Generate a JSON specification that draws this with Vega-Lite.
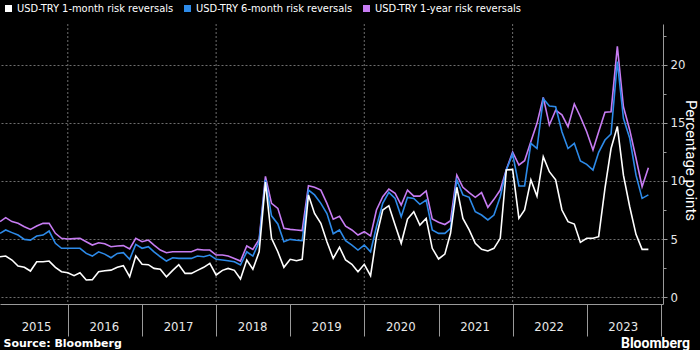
{
  "$schema": "https://vega.github.io/schema/vega-lite/v6.json",
  "width": 663,
  "height": 280,
  "autosize": "none",
  "padding": {"left": 0, "top": 24, "right": 37, "bottom": 46},
  "background": "#000000",
  "config": {"view": {"stroke": null}, "axisX": {"grid": false}},
  "title": {"text": "Bloomberg", "orient": "bottom", "anchor": "end", "frame": "group", "color": "#ffffff", "fontSize": 14, "fontWeight": "bold", "font": "Roboto", "dx": 27, "dy": -11, "offset": 0},
  "datasets": {
    "gridyears": [
      {"date": "2016-01-01"}, {"date": "2018-01-01"}, {"date": "2020-01-01"}, {"date": "2022-01-01"}
    ],
    "rr": [
    {"date":"2015-02-01","m1":3.47,"m6":5.49,"y1":6.5},
    {"date":"2015-03-01","m1":3.53,"m6":5.78,"y1":6.84},
    {"date":"2015-04-01","m1":3.19,"m6":5.55,"y1":6.5},
    {"date":"2015-05-01","m1":2.67,"m6":5.34,"y1":6.35},
    {"date":"2015-06-01","m1":2.56,"m6":4.97,"y1":6.06},
    {"date":"2015-07-01","m1":2.24,"m6":4.91,"y1":5.83},
    {"date":"2015-08-01","m1":3.04,"m6":5.26,"y1":6.12},
    {"date":"2015-09-01","m1":3.04,"m6":5.34,"y1":6.35},
    {"date":"2015-10-01","m1":3.1,"m6":5.69,"y1":6.35},
    {"date":"2015-11-01","m1":2.56,"m6":4.63,"y1":5.49},
    {"date":"2015-12-01","m1":2.18,"m6":4.2,"y1":5.06},
    {"date":"2016-01-01","m1":2.1,"m6":4.2,"y1":5.0},
    {"date":"2016-02-01","m1":1.84,"m6":4.2,"y1":5.03},
    {"date":"2016-03-01","m1":2.1,"m6":4.2,"y1":5.06},
    {"date":"2016-04-01","m1":1.47,"m6":3.76,"y1":4.77},
    {"date":"2016-05-01","m1":1.5,"m6":3.53,"y1":4.48},
    {"date":"2016-06-01","m1":2.18,"m6":3.9,"y1":4.68},
    {"date":"2016-07-01","m1":2.27,"m6":3.7,"y1":4.6},
    {"date":"2016-08-01","m1":2.32,"m6":3.39,"y1":4.34},
    {"date":"2016-09-01","m1":2.56,"m6":3.76,"y1":4.4},
    {"date":"2016-10-01","m1":2.7,"m6":3.82,"y1":4.43},
    {"date":"2016-11-01","m1":1.75,"m6":3.25,"y1":4.14},
    {"date":"2016-12-01","m1":3.53,"m6":4.54,"y1":5.06},
    {"date":"2017-01-01","m1":2.82,"m6":4.2,"y1":4.77},
    {"date":"2017-02-01","m1":2.79,"m6":4.34,"y1":4.91},
    {"date":"2017-03-01","m1":2.47,"m6":3.9,"y1":4.48},
    {"date":"2017-04-01","m1":2.39,"m6":3.47,"y1":4.05},
    {"date":"2017-05-01","m1":1.75,"m6":3.1,"y1":3.82},
    {"date":"2017-06-01","m1":2.3,"m6":3.39,"y1":3.9},
    {"date":"2017-07-01","m1":2.79,"m6":3.33,"y1":3.9},
    {"date":"2017-08-01","m1":2.04,"m6":3.33,"y1":3.9},
    {"date":"2017-09-01","m1":2.04,"m6":3.33,"y1":3.9},
    {"date":"2017-10-01","m1":2.3,"m6":3.53,"y1":4.11},
    {"date":"2017-11-01","m1":2.56,"m6":3.47,"y1":4.05},
    {"date":"2017-12-01","m1":2.9,"m6":3.62,"y1":4.05},
    {"date":"2018-01-01","m1":1.9,"m6":3.25,"y1":3.62},
    {"date":"2018-02-01","m1":2.3,"m6":3.19,"y1":3.62},
    {"date":"2018-03-01","m1":2.47,"m6":3.13,"y1":3.53},
    {"date":"2018-04-01","m1":2.3,"m6":3.04,"y1":3.33},
    {"date":"2018-05-01","m1":1.55,"m6":2.76,"y1":3.1},
    {"date":"2018-06-01","m1":3.19,"m6":3.9,"y1":4.4},
    {"date":"2018-07-01","m1":2.39,"m6":3.53,"y1":4.11},
    {"date":"2018-08-01","m1":3.9,"m6":4.77,"y1":4.97},
    {"date":"2018-09-01","m1":9.9,"m6":10.1,"y1":10.4},
    {"date":"2018-10-01","m1":5.06,"m6":7.0,"y1":8.07},
    {"date":"2018-11-01","m1":3.9,"m6":6.3,"y1":7.64},
    {"date":"2018-12-01","m1":2.56,"m6":4.77,"y1":5.92},
    {"date":"2019-01-01","m1":3.25,"m6":4.97,"y1":5.83},
    {"date":"2019-02-01","m1":3.13,"m6":4.89,"y1":5.78},
    {"date":"2019-03-01","m1":3.25,"m6":4.86,"y1":5.72},
    {"date":"2019-04-01","m1":8.8,"m6":9.22,"y1":9.6},
    {"date":"2019-05-01","m1":7.2,"m6":8.8,"y1":9.46},
    {"date":"2019-06-01","m1":6.35,"m6":8.07,"y1":9.22},
    {"date":"2019-07-01","m1":4.77,"m6":7.2,"y1":8.07},
    {"date":"2019-08-01","m1":3.33,"m6":5.45,"y1":6.7},
    {"date":"2019-09-01","m1":4.3,"m6":5.78,"y1":6.95},
    {"date":"2019-10-01","m1":3.19,"m6":4.85,"y1":6.1},
    {"date":"2019-11-01","m1":2.82,"m6":4.48,"y1":5.78},
    {"date":"2019-12-01","m1":2.18,"m6":4.05,"y1":5.34},
    {"date":"2020-01-01","m1":2.82,"m6":4.48,"y1":5.63},
    {"date":"2020-02-01","m1":1.84,"m6":3.9,"y1":5.26},
    {"date":"2020-03-01","m1":5.2,"m6":6.06,"y1":7.5},
    {"date":"2020-04-01","m1":7.5,"m6":8.07,"y1":8.65},
    {"date":"2020-05-01","m1":7.87,"m6":9.02,"y1":9.31},
    {"date":"2020-06-01","m1":6.2,"m6":8.5,"y1":8.94},
    {"date":"2020-07-01","m1":4.63,"m6":6.92,"y1":7.93},
    {"date":"2020-08-01","m1":6.72,"m6":8.59,"y1":9.22},
    {"date":"2020-09-01","m1":7.35,"m6":8.5,"y1":8.7},
    {"date":"2020-10-01","m1":6.2,"m6":7.99,"y1":8.7},
    {"date":"2020-11-01","m1":6.78,"m6":8.36,"y1":9.14},
    {"date":"2020-12-01","m1":4.2,"m6":5.78,"y1":6.72},
    {"date":"2021-01-01","m1":3.28,"m6":5.49,"y1":6.45},
    {"date":"2021-02-01","m1":3.7,"m6":5.49,"y1":6.25},
    {"date":"2021-03-01","m1":5.49,"m6":5.92,"y1":6.58},
    {"date":"2021-04-01","m1":9.46,"m6":10.09,"y1":10.5},
    {"date":"2021-05-01","m1":6.78,"m6":8.8,"y1":9.46},
    {"date":"2021-06-01","m1":5.78,"m6":8.59,"y1":9.0},
    {"date":"2021-07-01","m1":4.63,"m6":7.35,"y1":8.59},
    {"date":"2021-08-01","m1":4.11,"m6":7.07,"y1":9.0},
    {"date":"2021-09-01","m1":3.97,"m6":6.64,"y1":7.73},
    {"date":"2021-10-01","m1":4.2,"m6":7.07,"y1":8.42},
    {"date":"2021-11-01","m1":5.06,"m6":8.65,"y1":9.22},
    {"date":"2021-12-01","m1":10.95,"m6":10.95,"y1":11.0},
    {"date":"2022-01-01","m1":11.0,"m6":12.33,"y1":12.5},
    {"date":"2022-02-01","m1":6.78,"m6":9.57,"y1":11.38},
    {"date":"2022-03-01","m1":7.5,"m6":9.57,"y1":11.75},
    {"date":"2022-04-01","m1":10.09,"m6":13.25,"y1":13.4},
    {"date":"2022-05-01","m1":8.7,"m6":12.8,"y1":14.97},
    {"date":"2022-06-01","m1":12.1,"m6":17.1,"y1":17.2},
    {"date":"2022-07-01","m1":10.8,"m6":16.47,"y1":14.83},
    {"date":"2022-08-01","m1":10.1,"m6":16.4,"y1":16.1},
    {"date":"2022-09-01","m1":7.5,"m6":14.25,"y1":15.7},
    {"date":"2022-10-01","m1":6.49,"m6":12.8,"y1":14.68},
    {"date":"2022-11-01","m1":6.29,"m6":13.25,"y1":16.64},
    {"date":"2022-12-01","m1":4.71,"m6":11.72,"y1":15.54},
    {"date":"2023-01-01","m1":5.06,"m6":11.44,"y1":14.25},
    {"date":"2023-02-01","m1":5.06,"m6":10.95,"y1":12.67},
    {"date":"2023-03-01","m1":5.2,"m6":12.47,"y1":14.25},
    {"date":"2023-04-01","m1":9.37,"m6":13.53,"y1":15.92},
    {"date":"2023-05-01","m1":12.8,"m6":14.05,"y1":15.97},
    {"date":"2023-06-01","m1":14.7,"m6":20.3,"y1":21.6},
    {"date":"2023-07-01","m1":10.5,"m6":15.4,"y1":16.4},
    {"date":"2023-08-01","m1":7.78,"m6":13.68,"y1":14.4},
    {"date":"2023-09-01","m1":5.4,"m6":10.5,"y1":11.96},
    {"date":"2023-10-01","m1":4.11,"m6":8.5,"y1":9.51},
    {"date":"2023-11-01","m1":4.11,"m6":8.8,"y1":11.15}
  ]},
  "layer": [
    {
      "data": {"name": "gridyears"},
      "mark": {"type": "rule", "color": "#6e6e6e", "strokeDash": [2, 2], "strokeWidth": 1},
      "encoding": {
        "x": {"field": "date", "type": "temporal"}
      }
    },
    {
      "data": {"name": "rr"},
      "transform": [{"fold": ["m1", "m6", "y1"], "as": ["series", "value"]}],
      "encoding": {
        "x": {
          "field": "date", "type": "temporal",
          "scale": {"domain": [{"year": 2015, "month": 2, "date": 1}, {"year": 2024, "month": 1, "date": 12}]},
          "axis": {
            "values": [
              {"year": 2015, "month": 2, "date": 1},
              {"year": 2016, "month": 1, "date": 1},
              {"year": 2017, "month": 1, "date": 1},
              {"year": 2018, "month": 1, "date": 1},
              {"year": 2019, "month": 1, "date": 1},
              {"year": 2020, "month": 1, "date": 1},
              {"year": 2021, "month": 1, "date": 1},
              {"year": 2022, "month": 1, "date": 1},
              {"year": 2023, "month": 1, "date": 1},
              {"year": 2024, "month": 1, "date": 1}
            ],
            "format": "%Y",
            "labelExpr": "datum.label == '2024' ? '' : datum.label",
            "labelOffset": 36,
            "labelBaseline": "middle",
            "labelPadding": -10,
            "labelOverlap": false,
            "labelFlush": false,
            "labelBound": false,
            "labelColor": "#e8e8e8",
            "labelFontSize": 13,
            "labelFont": "Liberation Sans Narrow, DejaVu Sans Condensed, Roboto Condensed, Roboto, sans-serif",
            "tickSize": 32,
            "tickColor": "#9a9a9a",
            "tickWidth": 1,
            "tickOpacity": {"condition": {"test": "datum.label == '2015'", "value": 0}, "value": 1},
            "domainColor": "#9a9a9a",
            "domainWidth": 1,
            "grid": false,
            "title": "Source: Bloomberg",
            "titleAnchor": "start",
            "titleAlign": "left",
            "titleBaseline": "middle",
            "titleX": 3,
            "titleY": 39,
            "titleColor": "#ffffff",
            "titleFontSize": 11,
            "titleFontWeight": "bold",
            "titleFont": "DejaVu Sans, sans-serif"
          }
        },
        "y": {
          "field": "value", "type": "quantitative",
          "scale": {"domain": [-0.6, 23.53], "nice": false, "zero": false},
          "axis": {
            "orient": "right",
            "values": [0, 2.5, 5, 7.5, 10, 12.5, 15, 17.5, 20, 22.5],
            "labelExpr": "datum.value % 5 == 0 ? datum.label : ''",
            "labelColor": "#e8e8e8",
            "labelFontSize": 13,
            "labelFont": "Liberation Sans Narrow, DejaVu Sans Condensed, Roboto Condensed, Roboto, sans-serif",
            "labelPadding": 3,
            "tickSize": {"condition": {"test": "datum.value % 5 == 0", "value": 4}, "value": 3},
            "tickColor": "#9a9a9a",
            "domainColor": "#9a9a9a",
            "grid": true,
            "gridColor": "#6e6e6e",
            "gridDash": [2, 2],
            "gridOpacity": {"condition": {"test": "datum.value % 5 == 0", "value": 1}, "value": 0},
            "title": "Percentage points",
            "titleColor": "#ffffff",
            "titleFontSize": 15,
            "titleFontWeight": "normal",
            "titleFont": "Roboto, sans-serif",
            "titleAngle": 90,
            "titleAlign": "center",
            "titleBaseline": "middle",
            "titleX": 27,
            "titleY": 136
          }
        },
        "color": {
          "field": "series", "type": "nominal",
          "scale": {"domain": ["m1", "m6", "y1"], "range": ["#ffffff", "#2d8ae8", "#c77cf3"]},
          "legend": {
            "orient": "none",
            "legendX": 3,
            "legendY": -21,
            "direction": "horizontal",
            "title": null,
            "symbolType": "square",
            "symbolSize": 49,
            "symbolStrokeWidth": 0,
            "labelColor": "#ffffff",
            "labelFontSize": 11,
            "labelFont": "Liberation Sans Narrow, DejaVu Sans Condensed, Roboto Condensed, Roboto, sans-serif",
            "labelOffset": 3,
            "columnPadding": 8,
            "gridAlign": "none",
            "labelExpr": "datum.value == 'm1' ? 'USD-TRY 1-month risk reversals' : datum.value == 'm6' ? 'USD-TRY 6-month risk reversals' : 'USD-TRY 1-year risk reversals'",
            "encode": {"symbols": {"update": {"fill": {"scale": "color", "field": "value"}, "fillOpacity": {"value": 1}}}}
          }
        }
      },
      "layer": [
        {"transform": [{"filter": "datum.series == 'y1'"}], "mark": {"type": "line", "strokeWidth": 1.6}},
        {"transform": [{"filter": "datum.series == 'm6'"}], "mark": {"type": "line", "strokeWidth": 1.6}},
        {"transform": [{"filter": "datum.series == 'm1'"}], "mark": {"type": "line", "strokeWidth": 1.6}}
      ]
    }
  ]
}
